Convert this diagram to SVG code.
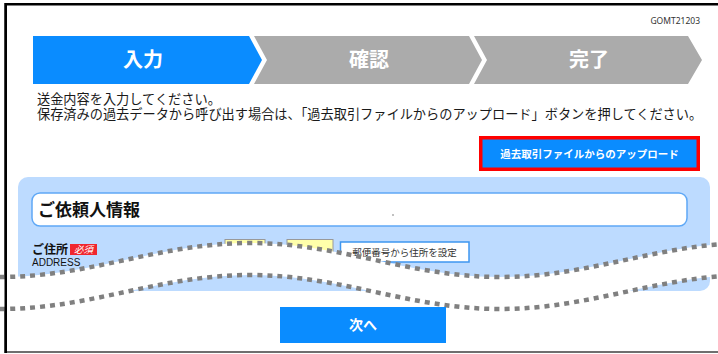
<svg xmlns="http://www.w3.org/2000/svg" width="718" height="354" viewBox="0 0 718 354">
  <style>
    .jp { font-family: "Noto Sans CJK JP", "Noto Sans", sans-serif; }
    .step-text { font-family: "Noto Sans CJK JP", sans-serif; font-size: 20px; font-weight: bold; fill: #ffffff; text-anchor: middle; }
    .body { font-family: "Noto Sans CJK JP", sans-serif; font-size: 13.2px; fill: #1a1a1a; }
    .wave { fill: none; stroke: #808080; stroke-width: 4.5; stroke-dasharray: 5 5; }
    .blue { fill: #0A8CFF; }
    .gray { fill: #ABABAB; }
  </style>

  <rect x="0" y="0" width="718" height="354" fill="#ffffff"/>

  <!-- frame -->
  <g id="frame">
    <rect x="5" y="3" width="713" height="2.5" fill="#000000"/>
    <rect x="4.5" y="3" width="2.5" height="350" fill="#000000"/>
    <rect x="5" y="351" width="713" height="2" fill="#6f6f6f"/>
  </g>

  <g id="screen-id">
    <text x="700" y="24" font-family="'Noto Sans', 'Liberation Sans', sans-serif" font-size="8.5" fill="#333333" text-anchor="end">GOMT21203</text>
  </g>

  <!-- steps -->
  <g id="step-input">
    <polygon class="blue" points="33,36 249,36 262,60 249,84 33,84"/>
    <text class="step-text" x="143" y="67">入力</text>
  </g>
  <g id="step-confirm">
    <polygon class="gray" points="254,36 469,36 482,60 469,84 254,84 267,60"/>
    <text class="step-text" x="369" y="67">確認</text>
  </g>
  <g id="step-complete">
    <polygon class="gray" points="474,36 688,36 702,60 688,84 474,84 487,60"/>
    <text class="step-text" x="589" y="67">完了</text>
  </g>

  <!-- instructions -->
  <g id="instructions">
    <text class="body" x="37" y="104">送金内容を入力してください。</text>
    <text class="body" x="37" y="119">保存済みの過去データから呼び出す場合は、「過去取引ファイルからのアップロード」ボタンを押してください。</text>
  </g>

  <!-- upload button -->
  <g id="upload-button">
    <rect x="479" y="136" width="221" height="35" fill="#FF0000"/>
    <rect x="482.5" y="139.5" width="214" height="28" fill="#0A8CFF"/>
    <text x="589.5" y="157.5" class="jp" font-size="10.5" font-weight="bold" fill="#ffffff" text-anchor="middle">過去取引ファイルからのアップロード</text>
  </g>

  <!-- form panel -->
  <g id="form-panel">
    <rect x="18" y="177" width="692" height="114" rx="10" fill="#BDDBFF"/>
    <rect x="32" y="193" width="655" height="33" rx="8" fill="#ffffff" stroke="#5FA8F6" stroke-width="1.5"/>
    <text x="38" y="216" class="jp" font-size="17" font-weight="bold" fill="#111111">ご依頼人情報</text>
    <circle cx="393" cy="215" r="0.7" fill="#555555"/>
  </g>

  <g id="address-field">
    <text x="32" y="254" class="jp" font-size="12" font-weight="bold" fill="#111111">ご住所</text>
    <rect x="70" y="244" width="27" height="11" fill="#F0262E"/>
    <text x="83.5" y="253" class="jp" font-size="9.5" font-style="italic" fill="#ffffff" text-anchor="middle">必須</text>
    <text x="32" y="266" font-family="'Liberation Sans', Arial, sans-serif" font-size="10" fill="#111111">ADDRESS</text>
    <rect x="225" y="239.5" width="40" height="20" fill="#FFFFAA" stroke="#999999" stroke-width="1"/>
    <rect x="287" y="239.5" width="46" height="20" fill="#FFFFAA" stroke="#999999" stroke-width="1"/>
  </g>

  <g id="zip-button">
    <rect x="340.5" y="242" width="128.5" height="20" fill="#ffffff" stroke="#3E96F0" stroke-width="1.5"/>
    <text x="404.5" y="255.5" class="jp" font-size="9.5" fill="#333333" text-anchor="middle">郵便番号から住所を設定</text>
  </g>

  <!-- cut (omission) band -->
  <g id="omission">
    <path d="M0,277 C91,277 159,243 250,243 C341,243 409,277 500,277 C591,277 659,243 750,243 L750,275 C659,275 591,309 500,309 C409,309 341,275 250,275 C159,275 91,309 0,309 Z" fill="#ffffff"/>
    <path class="wave" d="M0,277 C91,277 159,243 250,243 C341,243 409,277 500,277 C591,277 659,243 750,243"/>
    <path class="wave" d="M0,309 C91,309 159,275 250,275 C341,275 409,309 500,309 C591,309 659,275 750,275"/>
  </g>

  <!-- next button -->
  <g id="next-button">
    <rect x="280" y="307" width="166" height="36" fill="#0A8CFF"/>
    <text x="363" y="330" class="jp" font-size="14" font-weight="bold" fill="#ffffff" text-anchor="middle">次へ</text>
  </g>

  <!-- left frame redrawn above band -->
  <rect x="4.5" y="3" width="2.5" height="350" fill="#000000"/>
</svg>
